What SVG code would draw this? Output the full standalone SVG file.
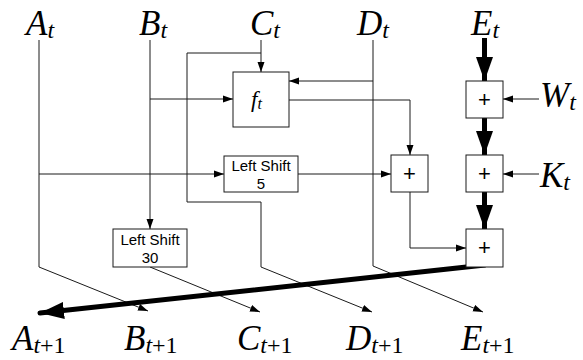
<svg xmlns="http://www.w3.org/2000/svg" width="583" height="360" viewBox="0 0 583 360">
<style>
.ln{fill:none;stroke:#1a1a1a;stroke-width:1}
.thk{fill:none;stroke:#000;stroke-width:5}
.box{fill:#fff;stroke:#1a1a1a;stroke-width:1}
.lbl{font-style:italic;font-size:35px;fill:#000}
.sub{font-size:24px}
.up{font-style:normal}
.bt{font-family:'Liberation Sans',Arial,sans-serif;font-size:15px;fill:#000;text-anchor:middle}
.pl{font-family:'Liberation Sans',Arial,sans-serif;font-size:22px;fill:#000;text-anchor:middle}
.fn{font-style:italic;font-size:23px;fill:#000}
</style>
<defs>
<marker id="a" markerUnits="userSpaceOnUse" markerWidth="10" markerHeight="8" refX="10" refY="4" orient="auto"><path d="M0,0.5 L10,4 L0,7.5z" fill="#000"/></marker>
<marker id="b" markerUnits="userSpaceOnUse" markerWidth="24" markerHeight="18" refX="24" refY="9" orient="auto"><path d="M0,0.5 L24,9 L0,17.5z" fill="#000"/></marker>
</defs>
<g id="connectors">
<path class="ln" d="M39,40 V267 L148,311" marker-end="url(#a)"/>
<path class="ln" d="M39,174 H224" marker-end="url(#a)"/>
<path class="ln" d="M150,40 V229" marker-end="url(#a)"/>
<path class="ln" d="M150,99 H233" marker-end="url(#a)"/>
<path class="ln" d="M261,40 V72" marker-end="url(#a)"/>
<path class="ln" d="M261,53 H187 V202 H261 V267 L372,312" marker-end="url(#a)"/>
<path class="ln" d="M373,40 V266 L483,312" marker-end="url(#a)"/>
<path class="ln" d="M373,81 H289" marker-end="url(#a)"/>
<path class="ln" d="M289,100 H410 V155" marker-end="url(#a)"/>
<path class="ln" d="M298,174 H391" marker-end="url(#a)"/>
<path class="ln" d="M150,267 L260,312" marker-end="url(#a)"/>
<path class="ln" d="M410,192 V248 H466" marker-end="url(#a)"/>
<path class="ln" d="M539,99 H503" marker-end="url(#a)"/>
<path class="ln" d="M539,174 H503" marker-end="url(#a)"/>
<path class="thk" d="M484.5,38 V81" marker-end="url(#b)"/>
<path class="thk" d="M484.5,118 V155" marker-end="url(#b)"/>
<path class="thk" d="M484.5,192 V229" marker-end="url(#b)"/>
<path class="thk" d="M485,265 L40,313" stroke-linecap="round" marker-end="url(#b)"/>
</g>
<g id="f">
<rect class="box" x="233" y="72" width="56" height="55"/>
<text class="fn" font-family="Liberation Serif, DejaVu Serif, serif" x="251" y="107">f<tspan font-size="16" dy="2">t</tspan></text>
</g>
<g id="ls5">
<rect class="box" x="224" y="156" width="74" height="36"/>
<text class="bt" x="261" y="171">Left Shift</text>
<text class="bt" x="261" y="189">5</text>
</g>
<g id="ls30">
<rect class="box" x="113" y="229" width="74" height="38"/>
<text class="bt" x="150" y="245">Left Shift</text>
<text class="bt" x="150" y="263">30</text>
</g>
<g id="addMid">
<rect class="box" x="391" y="155" width="37" height="37"/>
<text class="pl" x="409.5" y="181">+</text>
</g>
<g id="addW">
<rect class="box" x="466" y="81" width="37" height="37"/>
<text class="pl" x="484.5" y="107">+</text>
</g>
<g id="addK">
<rect class="box" x="466" y="155" width="37" height="37"/>
<text class="pl" x="484.5" y="181">+</text>
</g>
<g id="addOut">
<rect class="box" x="466" y="229" width="37" height="38"/>
<text class="pl" x="484.5" y="255">+</text>
</g>
<g id="labels" font-family="Liberation Serif, DejaVu Serif, serif">
<text class="lbl" x="26" y="35">A<tspan class="sub" dy="3">t</tspan></text>
<text class="lbl" x="139" y="35">B<tspan class="sub" dy="3">t</tspan></text>
<text class="lbl" x="250" y="35">C<tspan class="sub" dy="3">t</tspan></text>
<text class="lbl" x="357" y="35">D<tspan class="sub" dy="3">t</tspan></text>
<text class="lbl" x="471" y="35">E<tspan class="sub" dy="3">t</tspan></text>
<text class="lbl" x="540" y="107">W<tspan class="sub" dy="3">t</tspan></text>
<text class="lbl" x="540" y="187">K<tspan class="sub" dy="3">t</tspan></text>
<text class="lbl" x="12" y="350">A<tspan class="sub" dy="3">t</tspan><tspan class="sub up">+1</tspan></text>
<text class="lbl" x="124" y="350">B<tspan class="sub" dy="3">t</tspan><tspan class="sub up">+1</tspan></text>
<text class="lbl" x="237" y="350">C<tspan class="sub" dy="3">t</tspan><tspan class="sub up">+1</tspan></text>
<text class="lbl" x="346" y="350">D<tspan class="sub" dy="3">t</tspan><tspan class="sub up">+1</tspan></text>
<text class="lbl" x="461" y="350">E<tspan class="sub" dy="3">t</tspan><tspan class="sub up">+1</tspan></text>
</g>
</svg>
